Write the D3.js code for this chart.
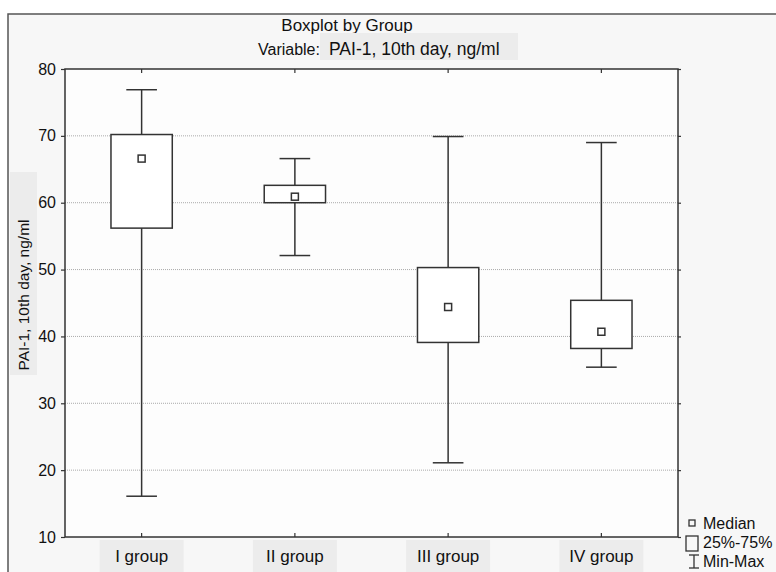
<!DOCTYPE html>
<html>
<head>
<meta charset="utf-8">
<script src="https://cdn.jsdelivr.net/npm/d3@7"></script>
<style>
  body { margin: 0; background: #ffffff; }
  svg text { font-family: "Liberation Sans", Arial, sans-serif; fill: #111; }
</style>
</head>
<body>
<svg id="chart" width="776" height="572"></svg>
<script>
// values
var groups = ["I group", "II group", "III group", "IV group"];
var minVals = [16.1, 52.1, 21.1, 35.4];
var q1Vals = [56.2, 60.0, 39.1, 38.2];
var medians = [66.6, 60.9, 44.4, 40.7];
var q3Vals = [70.2, 62.6, 50.3, 45.4];
var maxVals = [76.9, 66.6, 69.9, 69.0];
var yTicks = [10, 20, 30, 40, 50, 60, 70, 80];
var gridTicks = [20, 30, 40, 50, 60, 70];

var svg = d3.select("#chart");
var plotL = 65, plotR = 678, plotT = 69, plotB = 537;
var ink = "#333";

// outer frame
svg.append("rect")
    .attr("x", 8).attr("y", 14)
    .attr("width", 800).attr("height", 600)
    .attr("fill", "#f7f7f7")
    .attr("stroke", "#555").attr("stroke-width", 1.5);

var x = d3.scaleBand().domain(groups).range([plotL, plotR]).padding(0);
var y = d3.scaleLinear().domain([10, 80]).range([plotB, plotT]);

// plot background
svg.append("rect")
    .attr("x", plotL).attr("y", plotT)
    .attr("width", plotR - plotL).attr("height", plotB - plotT)
    .attr("fill", "#fdfdfd");

// titles
svg.append("text")
    .attr("x", 347).attr("y", 31)
    .attr("text-anchor", "middle")
    .style("font-size", "17px")
    .text("Boxplot by Group");

svg.append("rect")
    .attr("x", 320).attr("y", 33).attr("width", 198).attr("height", 27)
    .attr("fill", "#ececec");

svg.append("text")
    .attr("x", 258).attr("y", 55)
    .style("font-size", "16px")
    .text("Variable:");

svg.append("text")
    .attr("x", 329).attr("y", 55)
    .style("font-size", "17.5px")
    .text("PAI-1, 10th day, ng/ml");

// y axis title
svg.append("rect")
    .attr("x", 10).attr("y", 172).attr("width", 27).attr("height", 203)
    .attr("fill", "#ececec");

svg.append("text")
    .attr("transform", "translate(29," + 295 + ") rotate(-90)")
    .attr("text-anchor", "middle")
    .style("font-size", "15.5px")
    .text("PAI-1, 10th day, ng/ml");

// grid lines
svg.append("g").selectAll("line")
    .data(gridTicks)
    .join("line")
    .attr("x1", plotL).attr("x2", plotR)
    .attr("y1", function (d) { return y(d); })
    .attr("y2", function (d) { return y(d); })
    .attr("stroke", "#aaa")
    .attr("stroke-dasharray", "1,1");

// left and right axes
var yAxisL = svg.append("g")
    .attr("transform", "translate(" + plotL + ",0)")
    .call(d3.axisLeft(y).tickValues(yTicks).tickSize(4).tickPadding(5));
var yAxisR = svg.append("g")
    .attr("transform", "translate(" + plotR + ",0)")
    .call(d3.axisRight(y).tickValues(yTicks).tickSize(3).tickFormat(""));

// top and bottom axes, ticks inside
var xAxisB = svg.append("g")
    .attr("transform", "translate(0," + plotB + ")")
    .call(d3.axisTop(x).tickSize(4).tickFormat(""));
var xAxisT = svg.append("g")
    .attr("transform", "translate(0," + plotT + ")")
    .call(d3.axisBottom(x).tickSize(4).tickFormat(""));

[yAxisL, yAxisR, xAxisB, xAxisT].forEach(function (a) {
    a.selectAll(".domain").remove();
    a.selectAll("line").attr("stroke", ink).attr("stroke-width", 1.2);
});
yAxisL.selectAll("text")
    .style("font-size", "16px")
    .attr("fill", "#111");

// plot border
svg.append("rect")
    .attr("x", plotL).attr("y", plotT)
    .attr("width", plotR - plotL).attr("height", plotB - plotT)
    .attr("fill", "none")
    .attr("stroke", ink).attr("stroke-width", 1.5);

// x labels with grey boxes
var xl = svg.append("g").selectAll("g")
    .data(groups)
    .join("g")
    .attr("transform", function (d) { return "translate(" + (x(d) + x.bandwidth() / 2) + ",0)"; });
xl.append("rect")
    .attr("x", -42).attr("y", 540).attr("width", 84).attr("height", 32)
    .attr("fill", "#ececec");
xl.append("text")
    .attr("y", 562)
    .attr("text-anchor", "middle")
    .style("font-size", "17px")
    .text(function (d) { return d; });

// boxes
var boxW = x.bandwidth() * 0.4;
var capW = boxW / 2;
var rows = groups.map(function (g, i) {
    return { g: g, min: minVals[i], q1: q1Vals[i], med: medians[i], q3: q3Vals[i], max: maxVals[i] };
});

var box = svg.append("g").selectAll("g")
    .data(rows)
    .join("g")
    .attr("transform", function (d) { return "translate(" + (x(d.g) + x.bandwidth() / 2) + ",0)"; })
    .attr("stroke", ink)
    .attr("stroke-width", 1.5)
    .attr("fill", "none");

box.append("line")
    .attr("x1", 0).attr("x2", 0)
    .attr("y1", function (d) { return y(d.max); })
    .attr("y2", function (d) { return y(d.q3); });
box.append("line")
    .attr("x1", 0).attr("x2", 0)
    .attr("y1", function (d) { return y(d.q1); })
    .attr("y2", function (d) { return y(d.min); });
box.append("line")
    .attr("x1", -capW / 2).attr("x2", capW / 2)
    .attr("y1", function (d) { return y(d.max); })
    .attr("y2", function (d) { return y(d.max); });
box.append("line")
    .attr("x1", -capW / 2).attr("x2", capW / 2)
    .attr("y1", function (d) { return y(d.min); })
    .attr("y2", function (d) { return y(d.min); });
box.append("rect")
    .attr("x", -boxW / 2)
    .attr("y", function (d) { return y(d.q3); })
    .attr("width", boxW)
    .attr("height", function (d) { return y(d.q1) - y(d.q3); })
    .attr("fill", "#fff");
box.append("rect")
    .attr("x", -3.5)
    .attr("y", function (d) { return y(d.med) - 3.5; })
    .attr("width", 7).attr("height", 7)
    .attr("fill", "#fff");

// legend
var lg = svg.append("g").attr("stroke", ink).attr("stroke-width", 1.3).attr("fill", "none");
lg.append("rect").attr("x", 689).attr("y", 520).attr("width", 6).attr("height", 6);
lg.append("rect").attr("x", 686).attr("y", 536).attr("width", 12).attr("height", 15);
lg.append("line").attr("x1", 694).attr("x2", 694).attr("y1", 555).attr("y2", 568);
lg.append("line").attr("x1", 689).attr("x2", 699).attr("y1", 555).attr("y2", 555);
lg.append("line").attr("x1", 689).attr("x2", 699).attr("y1", 568).attr("y2", 568);

var legendText = ["Median", "25%-75%", "Min-Max"];
svg.append("g").selectAll("text")
    .data(legendText)
    .join("text")
    .attr("x", 703)
    .attr("y", function (d, i) { return 529 + i * 19; })
    .style("font-size", "16px")
    .text(function (d) { return d; });
</script>
</body>
</html>
